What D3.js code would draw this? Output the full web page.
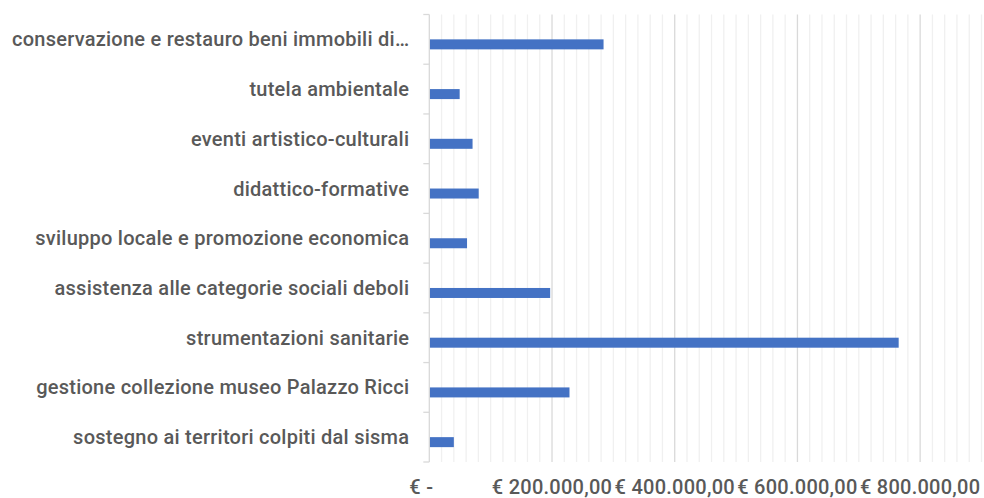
<!DOCTYPE html>
<html lang="it">
<head>
  <meta charset="UTF-8">
  <title>Erogazioni per settore</title>
  <script src="https://d3js.org/d3.v7.min.js"></script>
  <style>
    body { margin: 0; background: #fff; }
    text { font-family: Roboto, sans-serif; fill: #595959; font-size: 20px; font-weight: 500; letter-spacing: 0.25px; }
  </style>
</head>
<body>
  <svg width="984" height="498"></svg>
  <script>
    const categories = [
      "conservazione e restauro beni immobili di\u2026",
      "tutela ambientale",
      "eventi artistico-culturali",
      "didattico-formative",
      "sviluppo locale e promozione economica",
      "assistenza alle categorie sociali deboli",
      "strumentazioni sanitarie",
      "gestione collezione museo Palazzo Ricci",
      "sostegno ai territori colpiti dal sisma"
    ];
    const values = [284000, 49500, 70500, 80500, 61500, 197000, 765000, 228500, 40000];
    const majorTicks = [0, 200000, 400000, 600000, 800000];
    const tickLabels = ["\u20ac -", "\u20ac 200.000,00", "\u20ac 400.000,00", "\u20ac 600.000,00", "\u20ac 800.000,00"];

    const svg = d3.select("svg");
    const plot = { left: 429.3, right: 981.5, top: 14.5, bottom: 462 };

    const x = d3.scaleLinear().domain([0, 900000]).range([plot.left, plot.right]);
    const y = d3.scaleBand().domain(categories).range([plot.top, plot.bottom]);

    // minor gridlines every 20k
    svg.append("g").selectAll("line")
      .data(d3.range(20000, 900001, 20000).filter(v => v % 200000 !== 0))
      .enter().append("line")
      .attr("x1", d => x(d)).attr("x2", d => x(d))
      .attr("y1", plot.top).attr("y2", plot.bottom)
      .attr("stroke", "#f0f0f0").attr("stroke-width", 1.3);

    // major gridlines
    svg.append("g").selectAll("line")
      .data(majorTicks.slice(1))
      .enter().append("line")
      .attr("x1", d => x(d)).attr("x2", d => x(d))
      .attr("y1", plot.top).attr("y2", plot.bottom)
      .attr("stroke", "#d9d9d9").attr("stroke-width", 1.3);

    // bars
    const barH = 10;
    svg.append("g").selectAll("rect")
      .data(categories)
      .enter().append("rect")
      .attr("x", x(0))
      .attr("y", d => y(d) + y.bandwidth() / 2 - barH / 2 + 5)
      .attr("width", (d, i) => x(values[i]) - x(0))
      .attr("height", barH)
      .attr("fill", "#4472c4");

    // category axis
    const yAxis = svg.append("g").attr("transform", `translate(${plot.left},0)`);
    yAxis.append("line")
      .attr("x1", 0).attr("x2", 0).attr("y1", plot.top).attr("y2", plot.bottom)
      .attr("stroke", "#d9d9d9").attr("stroke-width", 1.3);
    yAxis.selectAll("line.tick")
      .data(d3.range(categories.length + 1))
      .enter().append("line")
      .attr("class", "tick")
      .attr("x1", -6).attr("x2", 0)
      .attr("y1", i => plot.top + i * y.step()).attr("y2", i => plot.top + i * y.step())
      .attr("stroke", "#d9d9d9").attr("stroke-width", 1.3);
    yAxis.selectAll("text")
      .data(categories)
      .enter().append("text")
      .attr("x", -20)
      .attr("y", d => y(d) + y.bandwidth() / 2 + 7)
      .attr("text-anchor", "end")
      .text(d => d);

    // value axis labels
    svg.append("g").selectAll("text")
      .data(majorTicks)
      .enter().append("text")
      .attr("x", (d, i) => i === 0 ? x(d) - 8 : x(d))
      .attr("y", 494)
      .attr("text-anchor", "middle")
      .text((d, i) => tickLabels[i]);
  </script>
</body>
</html>
